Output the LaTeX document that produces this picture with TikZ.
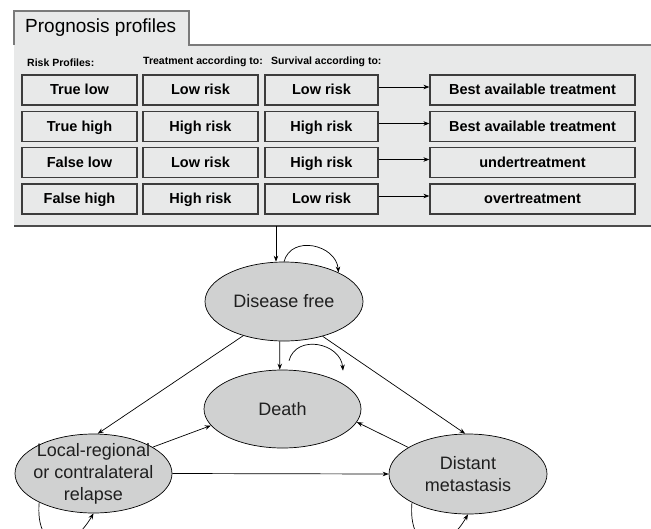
\documentclass[tikz,border=0pt]{standalone}
\usepackage{fontspec}
\setmainfont{Liberation Sans}
\usetikzlibrary{shapes.geometric, arrows.meta}
\definecolor{panelgray}{HTML}{E8E9E9}
\definecolor{stategray}{HTML}{D0D1D1}
\definecolor{framegray}{HTML}{7A7A7A}
\definecolor{boxline}{HTML}{3C3C3C}

\begin{document}
\begin{tikzpicture}[x=1pt, y=1pt,
  arr/.style={-{Stealth[length=6pt,width=4.5pt]}, line width=0.7pt},
  riskbox/.style={draw=boxline, line width=1.2pt, fill=panelgray, minimum height=30pt,
    inner sep=0pt, text height=10pt, text depth=0.5pt, font=\fontsize{14.5}{16}\selectfont\bfseries},
  head/.style={anchor=west, inner sep=0pt, font=\fontsize{10.5}{12}\selectfont\bfseries},
  state/.style={ellipse, draw, line width=0.7pt, fill=stategray, minimum width=158pt,
    minimum height=79pt, inner sep=0pt},
  stxt/.style={align=center, font=\fontsize{18}{22}\selectfont, text=black!88}]
  \useasboundingbox (0,0) rectangle (651,-528);
  \clip (0,0) rectangle (651,-528);

  % prognosis panel
  \fill[panelgray] (14,-11) rectangle (189,-45);
  \fill[panelgray] (14,-45) rectangle (651,-226);
  \draw[framegray, line width=1.2pt] (14,-45) -- (14,-11) -- (189,-11) -- (189,-45) -- (651,-45);
  \draw[black!70, line width=1.4pt] (14,-226) -- (651,-226);
  \node[anchor=west, inner sep=0pt, font=\fontsize{19}{22}\selectfont] (title) at (25,-28) {Prognosis profiles};

  \node[head] (hrisk) at (27,-63) {Risk Profiles:};
  \node[head] (htreat) at (143,-62) {Treatment according to:};
  \node[head] (hsurv) at (271,-62) {Survival according to:};

  \foreach \r/\y/\a/\b/\c/\d in {1/90/True low/Low risk/Low risk/Best available treatment,
      2/126.5/True high/High risk/High risk/Best available treatment,
      3/162.5/False low/Low risk/High risk/undertreatment,
      4/199/False high/High risk/Low risk/overtreatment} {
    \node[riskbox, minimum width=115pt] (p\r) at (79.5,-\y) {\a};
    \node[riskbox, minimum width=115pt] (t\r) at (200.5,-\y) {\b};
    \node[riskbox, minimum width=113pt] (s\r) at (321.5,-\y) {\c};
    \node[riskbox, minimum width=205pt] (o\r) at (532.5,-\y) {\d};
    \draw[arr] ([yshift=3pt]s\r.east) -- ([yshift=3pt]o\r.west);
  }

  % states
  \node[state, label={[stxt]center:Disease free}] (df) at (284,-301.5) {};
  \node[state, minimum width=157pt, minimum height=78pt, label={[stxt]center:Death}] (death) at (282.5,-409) {};
  \node[state, minimum width=157pt, label={[stxt]center:Local-regional\\or contralateral\\relapse}] (lr) at (93.5,-473.5) {};
  \node[state, minimum height=80pt, label={[stxt]center:Distant\\metastasis}] (dm) at (468,-474) {};

  \coordinate (entry) at (276,-226);
  \draw[arr] (entry) -- (entry |- df.north);

  \draw[arr] (df.264) -- (death.94);
  \draw[arr] (df.220) -- (lr.84);
  \draw[arr] (df.318) -- (dm.94);
  \draw[arr] (lr.24) -- (death.193);
  \draw[arr] (dm.156) -- (death.350);
  \draw[arr] (lr.east) -- (dm.west);

  % loops
  \draw[arr] (df.north) to[out=75, in=95, looseness=1.3] (df.28);
  \draw[arr] ([shift={(6.5,9)}]death.north) to[out=75, in=95, looseness=1.3] ([shift={(60.5,-1)}]death.north);
  \draw[arr] (lr.208) to[out=265, in=240, looseness=2.2] (lr.south);
  \draw[arr] (dm.207) to[out=265, in=240, looseness=2.2] (dm.south);
\end{tikzpicture}
\end{document}
